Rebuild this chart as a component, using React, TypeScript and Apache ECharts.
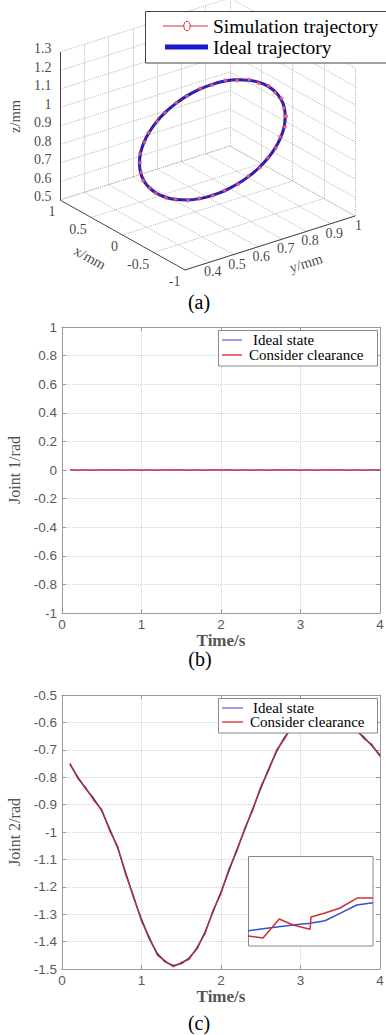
import React, { useEffect, useRef } from "react";
import * as echarts from "echarts";

// ---------- Panel (a): 3D trajectory ----------
const X_RANGE = [-1, 1];
const Y_RANGE = [0.3, 1.0];
const Z_RANGE = [0.5, 1.3];
const X_TICKS = [1, 0.5, 0, -0.5, -1];
const Y_TICKS = [0.4, 0.5, 0.6, 0.7, 0.8, 0.9, 1];
const Z_TICKS = [0.5, 0.6, 0.7, 0.8, 0.9, 1, 1.1, 1.2, 1.3];
const TRAJ_X = 0;
const IDEAL_Y = [0.970, 0.966, 0.952, 0.930, 0.900, 0.863, 0.820, 0.773, 0.722, 0.670, 0.618, 0.567, 0.520, 0.477, 0.440, 0.410, 0.388, 0.374, 0.370, 0.374, 0.388, 0.410, 0.440, 0.477, 0.520, 0.567, 0.618, 0.670, 0.722, 0.773, 0.820, 0.863, 0.900, 0.930, 0.952, 0.966, 0.970];
const IDEAL_Z = [0.860, 0.912, 0.963, 1.010, 1.053, 1.090, 1.120, 1.142, 1.156, 1.160, 1.156, 1.142, 1.120, 1.090, 1.053, 1.010, 0.963, 0.912, 0.860, 0.808, 0.757, 0.710, 0.667, 0.630, 0.600, 0.578, 0.564, 0.560, 0.564, 0.578, 0.600, 0.630, 0.667, 0.710, 0.757, 0.808, 0.860];
const SIM_Y = [0.972, 0.964, 0.954, 0.928, 0.902, 0.861, 0.822, 0.771, 0.724, 0.668, 0.620, 0.565, 0.522, 0.475, 0.442, 0.408, 0.390, 0.372, 0.371, 0.376, 0.386, 0.412, 0.438, 0.479, 0.518, 0.569, 0.616, 0.672, 0.720, 0.775, 0.818, 0.865, 0.898, 0.932, 0.950, 0.968, 0.972];
const SIM_Z = [0.862, 0.910, 0.965, 1.008, 1.055, 1.088, 1.122, 1.140, 1.158, 1.158, 1.158, 1.140, 1.122, 1.088, 1.055, 1.008, 0.965, 0.910, 0.862, 0.806, 0.759, 0.708, 0.669, 0.628, 0.602, 0.576, 0.566, 0.558, 0.566, 0.576, 0.602, 0.628, 0.669, 0.708, 0.759, 0.806, 0.862];

// ---------- Panels (b) and (c) ----------
const TIME = [0.1, 0.2, 0.3, 0.4, 0.5, 0.6, 0.7, 0.8, 0.9, 1.0, 1.1, 1.2, 1.3, 1.4, 1.5, 1.6, 1.7, 1.8, 1.9, 2.0, 2.1, 2.2, 2.3, 2.4, 2.5, 2.6, 2.7, 2.8, 2.9, 3.0, 3.1, 3.2, 3.3, 3.4, 3.5, 3.6, 3.7, 3.8, 3.9, 4.0];
const J1_IDEAL = [0, 0, 0, 0, 0, 0, 0, 0, 0, 0, 0, 0, 0, 0, 0, 0, 0, 0, 0, 0, 0, 0, 0, 0, 0, 0, 0, 0, 0, 0, 0, 0, 0, 0, 0, 0, 0, 0, 0, 0];
const J1_CLEAR = [0.002, -0.003, 0.001, -0.002, 0.003, -0.001, 0.002, -0.003, 0.002, -0.002, 0.001, -0.003, 0.002, -0.001, 0.003, -0.002, 0.001, -0.003, 0.002, -0.001, 0.003, -0.002, 0.001, -0.003, 0.002, -0.002, 0.003, -0.001, 0.002, -0.003, 0.001, -0.002, 0.003, -0.001, 0.002, -0.003, 0.001, -0.002, 0.002, -0.001];
const J2_IDEAL = [-0.752, -0.801, -0.842, -0.879, -0.922, -0.990, -1.057, -1.149, -1.238, -1.320, -1.390, -1.445, -1.474, -1.488, -1.480, -1.460, -1.425, -1.365, -1.290, -1.220, -1.140, -1.065, -0.990, -0.915, -0.840, -0.770, -0.705, -0.655, -0.615, -0.585, -0.565, -0.555, -0.555, -0.565, -0.580, -0.600, -0.630, -0.655, -0.685, -0.720];
const J2_CLEAR = [-0.748, -0.806, -0.838, -0.886, -0.917, -0.997, -1.051, -1.156, -1.232, -1.327, -1.384, -1.451, -1.470, -1.493, -1.475, -1.466, -1.419, -1.372, -1.284, -1.227, -1.133, -1.071, -0.984, -0.922, -0.833, -0.777, -0.699, -0.661, -0.609, -0.591, -0.560, -0.561, -0.550, -0.570, -0.575, -0.606, -0.624, -0.661, -0.680, -0.726];
const INSET_IDEAL = [[0, 1.7], [1.5, 1.97], [3.6, 2.33], [4.96, 2.52], [6.16, 2.81], [7.36, 3.63], [8.7, 4.56], [10, 4.81]];
const INSET_CLEAR = [[0, 1.11], [1.2, 0.89], [2.5, 3.0], [3.6, 2.33], [4.96, 1.85], [5.04, 3.22], [6.16, 3.67], [7.36, 4.22], [8.72, 5.33], [10, 5.33]];

// ---------- styles / layout ----------
const SERIF = "'Liberation Serif', 'Times New Roman', serif";
const SANS = "'Liberation Sans', Arial, sans-serif";
const BOX_O = [60, 200];
const BOX_EX = [125, 70];
const BOX_EY = [170, -54];
const BOX_EZ = [0, -148];

function proj(x: number, y: number, z: number): [number, number] {
  const a = (X_RANGE[1] - x) / (X_RANGE[1] - X_RANGE[0]);
  const b = (y - Y_RANGE[0]) / (Y_RANGE[1] - Y_RANGE[0]);
  const c = (z - Z_RANGE[0]) / (Z_RANGE[1] - Z_RANGE[0]);
  return [
    BOX_O[0] + a * BOX_EX[0] + b * BOX_EY[0] + c * BOX_EZ[0],
    BOX_O[1] + a * BOX_EX[1] + b * BOX_EY[1] + c * BOX_EZ[1],
  ];
}

const fmt = (v: number) => String(parseFloat(v.toFixed(2)));

function buildOption() {
  const xmax = X_RANGE[1], xmin = X_RANGE[0];
  const ymin = Y_RANGE[0], ymax = Y_RANGE[1];
  const zmin = Z_RANGE[0], zmax = Z_RANGE[1];
  const gridSegs: any[] = [];
  Y_TICKS.forEach((y) => gridSegs.push([proj(xmax, y, zmin), proj(xmax, y, zmax)]));
  Z_TICKS.forEach((z) => gridSegs.push([proj(xmax, ymin, z), proj(xmax, ymax, z)]));
  X_TICKS.forEach((x) => gridSegs.push([proj(x, ymax, zmin), proj(x, ymax, zmax)]));
  Z_TICKS.forEach((z) => gridSegs.push([proj(xmax, ymax, z), proj(xmin, ymax, z)]));
  X_TICKS.forEach((x) => gridSegs.push([proj(x, ymin, zmin), proj(x, ymax, zmin)]));
  Y_TICKS.forEach((y) => gridSegs.push([proj(xmax, y, zmin), proj(xmin, y, zmin)]));
  const axisSegs = [
    [proj(xmax, ymin, zmin), proj(xmax, ymin, zmax)],
    [proj(xmax, ymin, zmin), proj(xmin, ymin, zmin)],
    [proj(xmin, ymin, zmin), proj(xmin, ymax, zmin)],
  ];
  const lab = { fontFamily: SERIF, fontSize: 14, color: "#111", lineHeight: 15 };
  const zLabels = Z_TICKS.map((z) => ({
    value: proj(xmax, ymin, z), name: fmt(z),
    label: { ...lab, position: [-8, -3], align: "right", verticalAlign: "middle" },
  }));
  const xLabels = X_TICKS.map((x) => ({
    value: proj(x, ymin, zmin), name: fmt(x),
    label: { ...lab, position: [-4, 12], align: "right", verticalAlign: "middle" },
  }));
  const yLabels = Y_TICKS.map((y) => ({
    value: proj(xmin, y, zmin), name: fmt(y),
    label: { ...lab, position: [4, 10], align: "center", verticalAlign: "middle" },
  }));
  const zt = proj(xmax, ymin, 0.9);
  const xt = proj(0, ymin, zmin);
  const yt = proj(xmin, 0.8, zmin);
  const titles = [
    { value: zt, name: "z/mm", label: { ...lab, fontSize: 14.5, position: [-45, -9], align: "center", verticalAlign: "middle", rotate: 90 } },
    { value: xt, name: "x/mm", label: { ...lab, fontSize: 14.5, position: [-32, 23], align: "center", verticalAlign: "middle", rotate: -29 } },
    { value: yt, name: "y/mm", label: { ...lab, fontSize: 14.5, position: [0, 32], align: "center", verticalAlign: "middle", rotate: 17 } },
  ];
  const idealPts = IDEAL_Y.map((y, i) => proj(TRAJ_X, y, IDEAL_Z[i]));
  const simPts = SIM_Y.map((y, i) => proj(TRAJ_X, y, SIM_Z[i]));

  const hiddenX = (g: number, min: number, max: number) => ({ gridIndex: g, type: "value", min, max, show: false });
  const hiddenY = (g: number, min: number, max: number, inverse = false) => ({ gridIndex: g, type: "value", min, max, show: false, inverse });

  const frameLine = { show: true, onZero: false, lineStyle: { color: "#9a9a9a", width: 1 } };
  const tick = { show: true, inside: true, length: 4, lineStyle: { color: "#9a9a9a" } };
  const split = { show: true, lineStyle: { color: "#d2d2d2", type: "dotted", width: 1 } };
  const tickLab = { color: "#5a5a5a", fontFamily: SANS, fontSize: 13.5, formatter: fmt, showMinLabel: true, showMaxLabel: true };

  const bottomX = (g: number) => ({
    gridIndex: g, type: "value", min: 0, max: 4, interval: 1, position: "bottom",
    axisLine: frameLine, axisTick: tick, splitLine: split,
    axisLabel: { ...tickLab, margin: 4 },
    name: "Time/s", nameLocation: "middle", nameGap: 16,
    nameTextStyle: { fontFamily: SERIF, fontSize: 17, fontWeight: "bold", color: "#555" },
  });
  const topX = (g: number) => ({
    gridIndex: g, type: "value", min: 0, max: 4, interval: 1, position: "top",
    axisLine: frameLine, axisTick: tick, splitLine: { show: false }, axisLabel: { show: false },
  });
  const leftY = (g: number, min: number, max: number, interval: number, name: string) => ({
    gridIndex: g, type: "value", min, max, interval, position: "left",
    axisLine: frameLine, axisTick: tick, splitLine: split,
    axisLabel: { ...tickLab, margin: 5 },
    name, nameLocation: "middle", nameGap: 37,
    nameTextStyle: { fontFamily: SERIF, fontSize: 16, color: "#555" },
  });
  const rightY = (g: number, min: number, max: number, interval: number) => ({
    gridIndex: g, type: "value", min, max, interval, position: "right",
    axisLine: frameLine, axisTick: tick, splitLine: { show: false }, axisLabel: { show: false },
  });

  const txt = (x: number, y: number, text: string, size: number, align = "left", extra: any = {}) => ({
    type: "text", x, y, z: 101,
    style: { text, fill: "#000", fontFamily: SERIF, fontSize: size, textAlign: align, textVerticalAlign: "middle", align, verticalAlign: "middle", ...extra },
  });
  const ln = (x1: number, y1: number, x2: number, y2: number, color: string, w: number) => ({
    type: "line", z: 101, shape: { x1, y1, x2, y2 }, style: { stroke: color, lineWidth: w },
  });
  const box = (x: number, y: number, w: number, h: number, stroke = "#888") => ({
    type: "rect", z: 100, shape: { x, y, width: w, height: h }, style: { fill: "#fff", stroke, lineWidth: 1 },
  });

  return {
    animation: false,
    backgroundColor: "#fff",
    grid: [
      { left: 0, top: 0, width: 386, height: 300, outerBoundsMode: "none" },
      { left: 62, top: 327, width: 318, height: 286, outerBoundsMode: "none" },
      { left: 62, top: 695, width: 318, height: 274, outerBoundsMode: "none" },
      { left: 248, top: 856, width: 125, height: 90, outerBoundsMode: "none" },
    ],
    xAxis: [
      hiddenX(0, 0, 386),
      bottomX(1), topX(1),
      bottomX(2), topX(2),
      hiddenX(3, 0, 10),
    ],
    yAxis: [
      hiddenY(0, 0, 300, true),
      leftY(1, -1, 1, 0.2, "Joint 1/rad"), rightY(1, -1, 1, 0.2),
      leftY(2, -1.5, -0.5, 0.1, "Joint 2/rad"), rightY(2, -1.5, -0.5, 0.1),
      hiddenY(3, 0, 10),
    ],
    series: [
      {
        type: "lines", coordinateSystem: "cartesian2d", xAxisIndex: 0, yAxisIndex: 0, silent: true, z: 1,
        lineStyle: { color: "#b8b8b8", width: 1, type: "dotted", opacity: 1 },
        data: gridSegs.map((s) => ({ coords: s })),
      },
      {
        type: "lines", coordinateSystem: "cartesian2d", xAxisIndex: 0, yAxisIndex: 0, silent: true, z: 1,
        lineStyle: { color: "#444", width: 1, type: "solid", opacity: 1 },
        data: axisSegs.map((s) => ({ coords: s })),
      },
      {
        type: "scatter", xAxisIndex: 0, yAxisIndex: 0, symbolSize: 1, silent: true,
        itemStyle: { color: "rgba(0,0,0,0)" },
        label: { show: true, formatter: "{b}" },
        data: [...zLabels, ...xLabels, ...yLabels, ...titles],
      },
      {
        name: "Ideal trajectory", type: "line", xAxisIndex: 0, yAxisIndex: 0, data: idealPts,
        showSymbol: false, smooth: 0.4, lineStyle: { color: "#1a1ab8", width: 3 }, z: 3,
      },
      {
        name: "Simulation trajectory", type: "line", xAxisIndex: 0, yAxisIndex: 0, data: simPts,
        symbol: "emptyCircle", symbolSize: 2.5, smooth: 0.4,
        itemStyle: { color: "#e04060", borderWidth: 0.6, opacity: 0.55 },
        lineStyle: { color: "#d03060", width: 1, opacity: 0.55, type: "dashed" }, z: 4,
      },
      {
        name: "Ideal state", type: "line", xAxisIndex: 1, yAxisIndex: 1,
        data: TIME.map((t, i) => [t, J1_IDEAL[i]]), showSymbol: false,
        lineStyle: { color: "#3030c0", width: 1.2 }, z: 3,
      },
      {
        name: "Consider clearance", type: "line", xAxisIndex: 1, yAxisIndex: 1,
        data: TIME.map((t, i) => [t, J1_CLEAR[i]]), showSymbol: false,
        lineStyle: { color: "#e03838", width: 1.3 }, z: 4,
      },
      {
        name: "Ideal state", type: "line", xAxisIndex: 3, yAxisIndex: 3,
        data: TIME.map((t, i) => [t, J2_IDEAL[i]]), showSymbol: false,
        lineStyle: { color: "#302c80", width: 1.6 }, z: 3,
      },
      {
        name: "Consider clearance", type: "line", xAxisIndex: 3, yAxisIndex: 3,
        data: TIME.map((t, i) => [t, J2_CLEAR[i]]), showSymbol: false,
        lineStyle: { color: "#d83030", width: 1.2, opacity: 0.85 }, z: 4,
      },
      {
        name: "Ideal state (zoom)", type: "line", xAxisIndex: 5, yAxisIndex: 5,
        data: INSET_IDEAL, showSymbol: false,
        lineStyle: { color: "#3450d0", width: 1.5 }, z: 110, zlevel: 0,
      },
      {
        name: "Consider clearance (zoom)", type: "line", xAxisIndex: 5, yAxisIndex: 5,
        data: INSET_CLEAR, showSymbol: false,
        lineStyle: { color: "#d03030", width: 1.5 }, z: 111, zlevel: 0,
      },
    ],
    graphic: [
      // legend (a)
      box(145.5, 11.5, 260, 51.5, "#444"),
      ln(163, 26, 208, 26, "#d03030", 1),
      { type: "ellipse", z: 102, shape: { cx: 187, cy: 26, rx: 3.2, ry: 4.8 }, style: { fill: "#fff", stroke: "#d03030", lineWidth: 1 } },
      ln(165, 47, 208, 47, "#1a1acc", 5),
      txt(213, 26, "Simulation trajectory", 19.5),
      txt(213, 47, "Ideal trajectory", 19.5),
      // legend (b)
      box(218.5, 330.5, 159, 35.5),
      ln(222, 340, 242, 340, "#4040c8", 1),
      ln(222, 355, 242, 355, "#e04040", 1.5),
      txt(253, 340, "Ideal state", 15),
      txt(249, 355, "Consider clearance", 15),
      // legend (c)
      box(218.5, 698.5, 159, 34.5),
      ln(222, 708, 243, 708, "#4040c8", 1),
      ln(222, 722, 243, 722, "#e04040", 1.5),
      txt(253, 708, "Ideal state", 15),
      txt(250, 722, "Consider clearance", 15),
      // inset frame (c)
      box(248.5, 856.5, 124.5, 89.5, "#888"),
      // captions
      txt(199, 302, "(a)", 20, "center"),
      txt(200, 659, "(b)", 20, "center"),
      txt(199, 1023, "(c)", 20, "center"),
    ],
  };
}

export default function App() {
  const ref = useRef<HTMLDivElement>(null);
  useEffect(() => {
    if (!ref.current) return;
    const chart = echarts.init(ref.current, null, { renderer: "svg" });
    chart.setOption(buildOption() as any);
    return () => chart.dispose();
  }, []);
  return (
    <div
      ref={ref}
      style={{ position: "absolute", left: 0, top: 0, width: 386, height: 1035, background: "#fff" }}
    />
  );
}
